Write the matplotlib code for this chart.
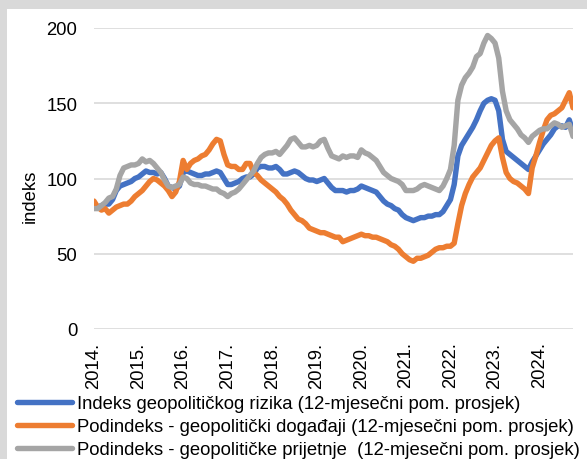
import matplotlib
matplotlib.use("Agg")
import matplotlib.pyplot as plt
from matplotlib.patches import Rectangle
import numpy as np

plt.rcParams['font.family'] = ['Liberation Sans', 'DejaVu Sans']

# monthly values, Jan 2014 - Oct 2024
years = ["2014.", "2015.", "2016.", "2017.", "2018.", "2019.",
         "2020.", "2021.", "2022.", "2023.", "2024."]

gpr = [82, 81, 82, 83, 83, 86, 92, 95, 96, 97, 98, 100,
       101, 103, 105, 104, 104, 103, 104, 100, 95, 94, 93, 95,
       104, 105, 104, 103, 102, 102, 103, 103, 104, 105, 104, 100,
       96, 96, 97, 98, 100, 101, 101, 103, 107, 108, 108, 107,
       107, 108, 106, 103, 103, 104, 105, 104, 102, 100, 99, 99,
       98, 99, 100, 97, 94, 92, 92, 92, 91, 92, 92, 93,
       95, 94, 93, 92, 91, 88, 85, 83, 82, 80, 79, 76,
       74, 73, 72, 73, 74, 74, 75, 75, 76, 76, 78, 82,
       86, 96, 115, 122, 126, 130, 134, 139, 145, 150, 152, 153,
       152, 145, 126, 118, 116, 114, 112, 110, 108, 106, 111, 115,
       119, 123, 126, 129, 133, 135, 135, 134, 139, 131]

gpr_acts = [85, 81, 79, 80, 77, 79, 81, 82, 83, 83, 85, 88,
            90, 92, 95, 98, 100, 99, 97, 95, 92, 88, 91, 98,
            112, 106, 110, 112, 113, 115, 116, 119, 123, 126, 125, 116,
            109, 108, 108, 106, 106, 110, 110, 104, 102, 99, 97, 95,
            93, 91, 88, 86, 83, 79, 76, 73, 72, 70, 67, 66,
            65, 64, 64, 63, 62, 61, 61, 58, 59, 60, 61, 62,
            63, 62, 62, 61, 61, 60, 59, 58, 56, 55, 53, 50,
            48, 46, 45, 47, 47, 48, 49, 51, 53, 54, 54, 55,
            55, 57, 70, 82, 90, 96, 101, 104, 107, 112, 117, 122,
            125, 127, 114, 104, 100, 98, 97, 95, 93, 90, 107, 115,
            124, 132, 139, 142, 143, 145, 147, 152, 157, 147]

gpr_threats = [80, 80, 82, 84, 87, 88, 93, 102, 107, 108, 109, 109,
               110, 113, 111, 112, 110, 107, 104, 99, 95, 94, 95, 96,
               101, 100, 97, 96, 96, 95, 95, 94, 93, 93, 91, 90,
               88, 90, 91, 93, 96, 99, 102, 105, 110, 114, 116, 117,
               117, 118, 116, 119, 122, 126, 127, 124, 121, 121, 122, 121,
               122, 125, 126, 120, 115, 114, 113, 115, 114, 115, 115, 114,
               119, 117, 116, 114, 112, 108, 104, 102, 100, 99, 98, 96,
               92, 92, 92, 93, 95, 96, 95, 94, 93, 92, 95, 100,
               106, 122, 152, 162, 167, 170, 174, 181, 183, 190, 195, 193,
               190, 180, 158, 145, 139, 136, 133, 129, 127, 124, 128, 130,
               132, 133, 133, 135, 137, 136, 134, 135, 136, 128]

labels = ["Indeks geopolitičkog rizika (12-mjesečni pom. prosjek)",
          "Podindeks - geopolitički događaji (12-mjesečni pom. prosjek)",
          "Podindeks - geopolitičke prijetnje  (12-mjesečni pom. prosjek)"]
colors = ["#4472C4", "#ED7D31", "#A5A5A5"]

fs = 13.3

fig = plt.figure(figsize=(5.87, 4.6), dpi=100)
fig.patch.set_facecolor("#D9D9D9")
fig.patches.append(Rectangle((7 / 587, 0), 1, 450 / 460, transform=fig.transFigure,
                             facecolor="white", edgecolor="none", zorder=-5))

ax = fig.add_axes([94 / 587, 130 / 460, 479 / 587, 301 / 460])
ax.set_facecolor("none")
ax.set_zorder(2)

x = np.arange(len(gpr))
for series, lab, col in zip([gpr, gpr_acts, gpr_threats], labels, colors):
    ax.plot(x, series, color=col, lw=3.9, label=lab,
            solid_capstyle="round", solid_joinstyle="round")

ax.set_xlim(0, len(gpr) - 1)
ax.set_ylim(0, 200)
ax.set_yticks([0, 50, 100, 150, 200])
ax.set_xticks(np.arange(0, len(gpr), 12))
ax.set_xticklabels(years, rotation=90, va="top", ha="center")
ax.grid(axis="y", color="#D9D9D9", lw=1.2)
ax.set_axisbelow(True)
for s in ax.spines.values():
    s.set_visible(False)
ax.tick_params(axis="both", length=0, labelsize=fs, colors="black")
ax.tick_params(axis="x", pad=9)
ax.tick_params(axis="y", pad=12)

fig.text(30 / 587, 1 - 196 / 460, "indeks", rotation=90, ha="center", va="center",
         fontsize=fs)

fig.legend(loc="upper left", bbox_to_anchor=(17 / 587, 1 - 396 / 460),
           frameon=False, fontsize=fs, handlelength=3.0, handletextpad=0.25,
           labelspacing=0.33, borderpad=0, borderaxespad=0)

fig.savefig("out.png", dpi=100)
